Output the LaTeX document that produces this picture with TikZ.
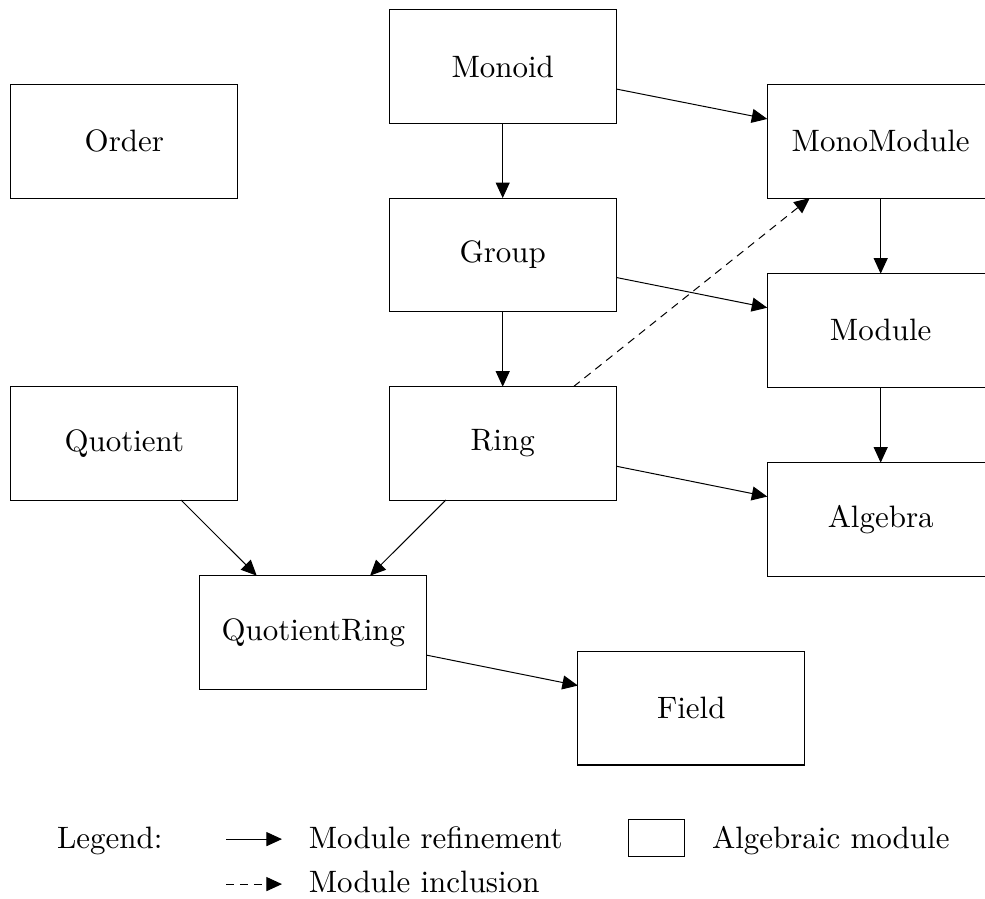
\documentclass[tikz,border=0pt]{standalone}
\usetikzlibrary{arrows.meta}
\newcommand\bigtxt[1]{\scalebox{2.33}{#1}}
\begin{document}
\begin{tikzpicture}[
  x=1cm, y=1cm,
  modbox/.style={draw, line width=0.8pt, minimum width=6cm, minimum height=3cm,
                 inner sep=0pt, outer sep=0pt},
  refine/.style={line width=0.75pt, -{Triangle[length=0.41cm, width=0.37cm]}},
  include/.style={refine, dash pattern=on 6pt off 4.5pt},
  legtxt/.style={anchor=base west, inner sep=0pt, outer sep=0pt}
]
\useasboundingbox (0,0) rectangle (26.06,-23.78);

% module boxes
\node[modbox] (monoid)   at (13.30,-1.76)  {\bigtxt{Monoid}};
\node[modbox] (order)    at (3.29,-3.74)   {\bigtxt{Order}};
\node[modbox] (monomod)  at (23.30,-3.74)  {\bigtxt{MonoModule}};
\node[modbox] (group)    at (13.30,-6.74)  {\bigtxt{Group}};
\node[modbox] (module)   at (23.30,-8.74)  {\bigtxt{Module}};
\node[modbox] (quotient) at (3.29,-11.73)  {\bigtxt{Quotient}};
\node[modbox] (ring)     at (13.30,-11.73) {\bigtxt{Ring}};
\node[modbox] (algebra)  at (23.30,-13.74) {\bigtxt{Algebra}};
\node[modbox] (qring)    at (8.29,-16.73)  {\bigtxt{QuotientRing}};
\node[modbox] (field)    at (18.29,-18.74) {\bigtxt{Field}};

% refinements
\draw[refine] (monoid) -- (group);
\draw[refine] (group) -- (ring);
\draw[refine] (monoid) -- (monomod);
\draw[refine] (group) -- (module);
\draw[refine] (ring) -- (algebra);
\draw[refine] (monomod) -- (module);
\draw[refine] (module) -- (algebra);
\draw[refine] (quotient) -- (qring);
\draw[refine] (ring) -- (qring);
\draw[refine] (qring) -- (field);

% inclusion
\draw[include] (ring) -- (monomod);

% legend
\node[legtxt] (leg) at (1.51,-22.45) {\bigtxt{Legend:}};
\coordinate (r1) at (5.98,-22.20);
\coordinate (r2) at (7.46,-22.20);
\draw[refine] (r1) -- (r2);
\node[legtxt] (reftxt) at (8.17,-22.45) {\bigtxt{Module refinement}};
\coordinate (i1) at (5.98,-23.39);
\coordinate (i2) at (7.46,-23.39);
\draw[include] (i1) -- (i2);
\node[legtxt] (inctxt) at (8.17,-23.62) {\bigtxt{Module inclusion}};
\node[draw, line width=0.8pt, minimum width=1.5cm, minimum height=1cm,
      inner sep=0pt, outer sep=0pt] (legbox) at (17.37,-22.17) {};
\node[legtxt] (algtxt) at (18.84,-22.45) {\bigtxt{Algebraic module}};
\end{tikzpicture}
\end{document}
